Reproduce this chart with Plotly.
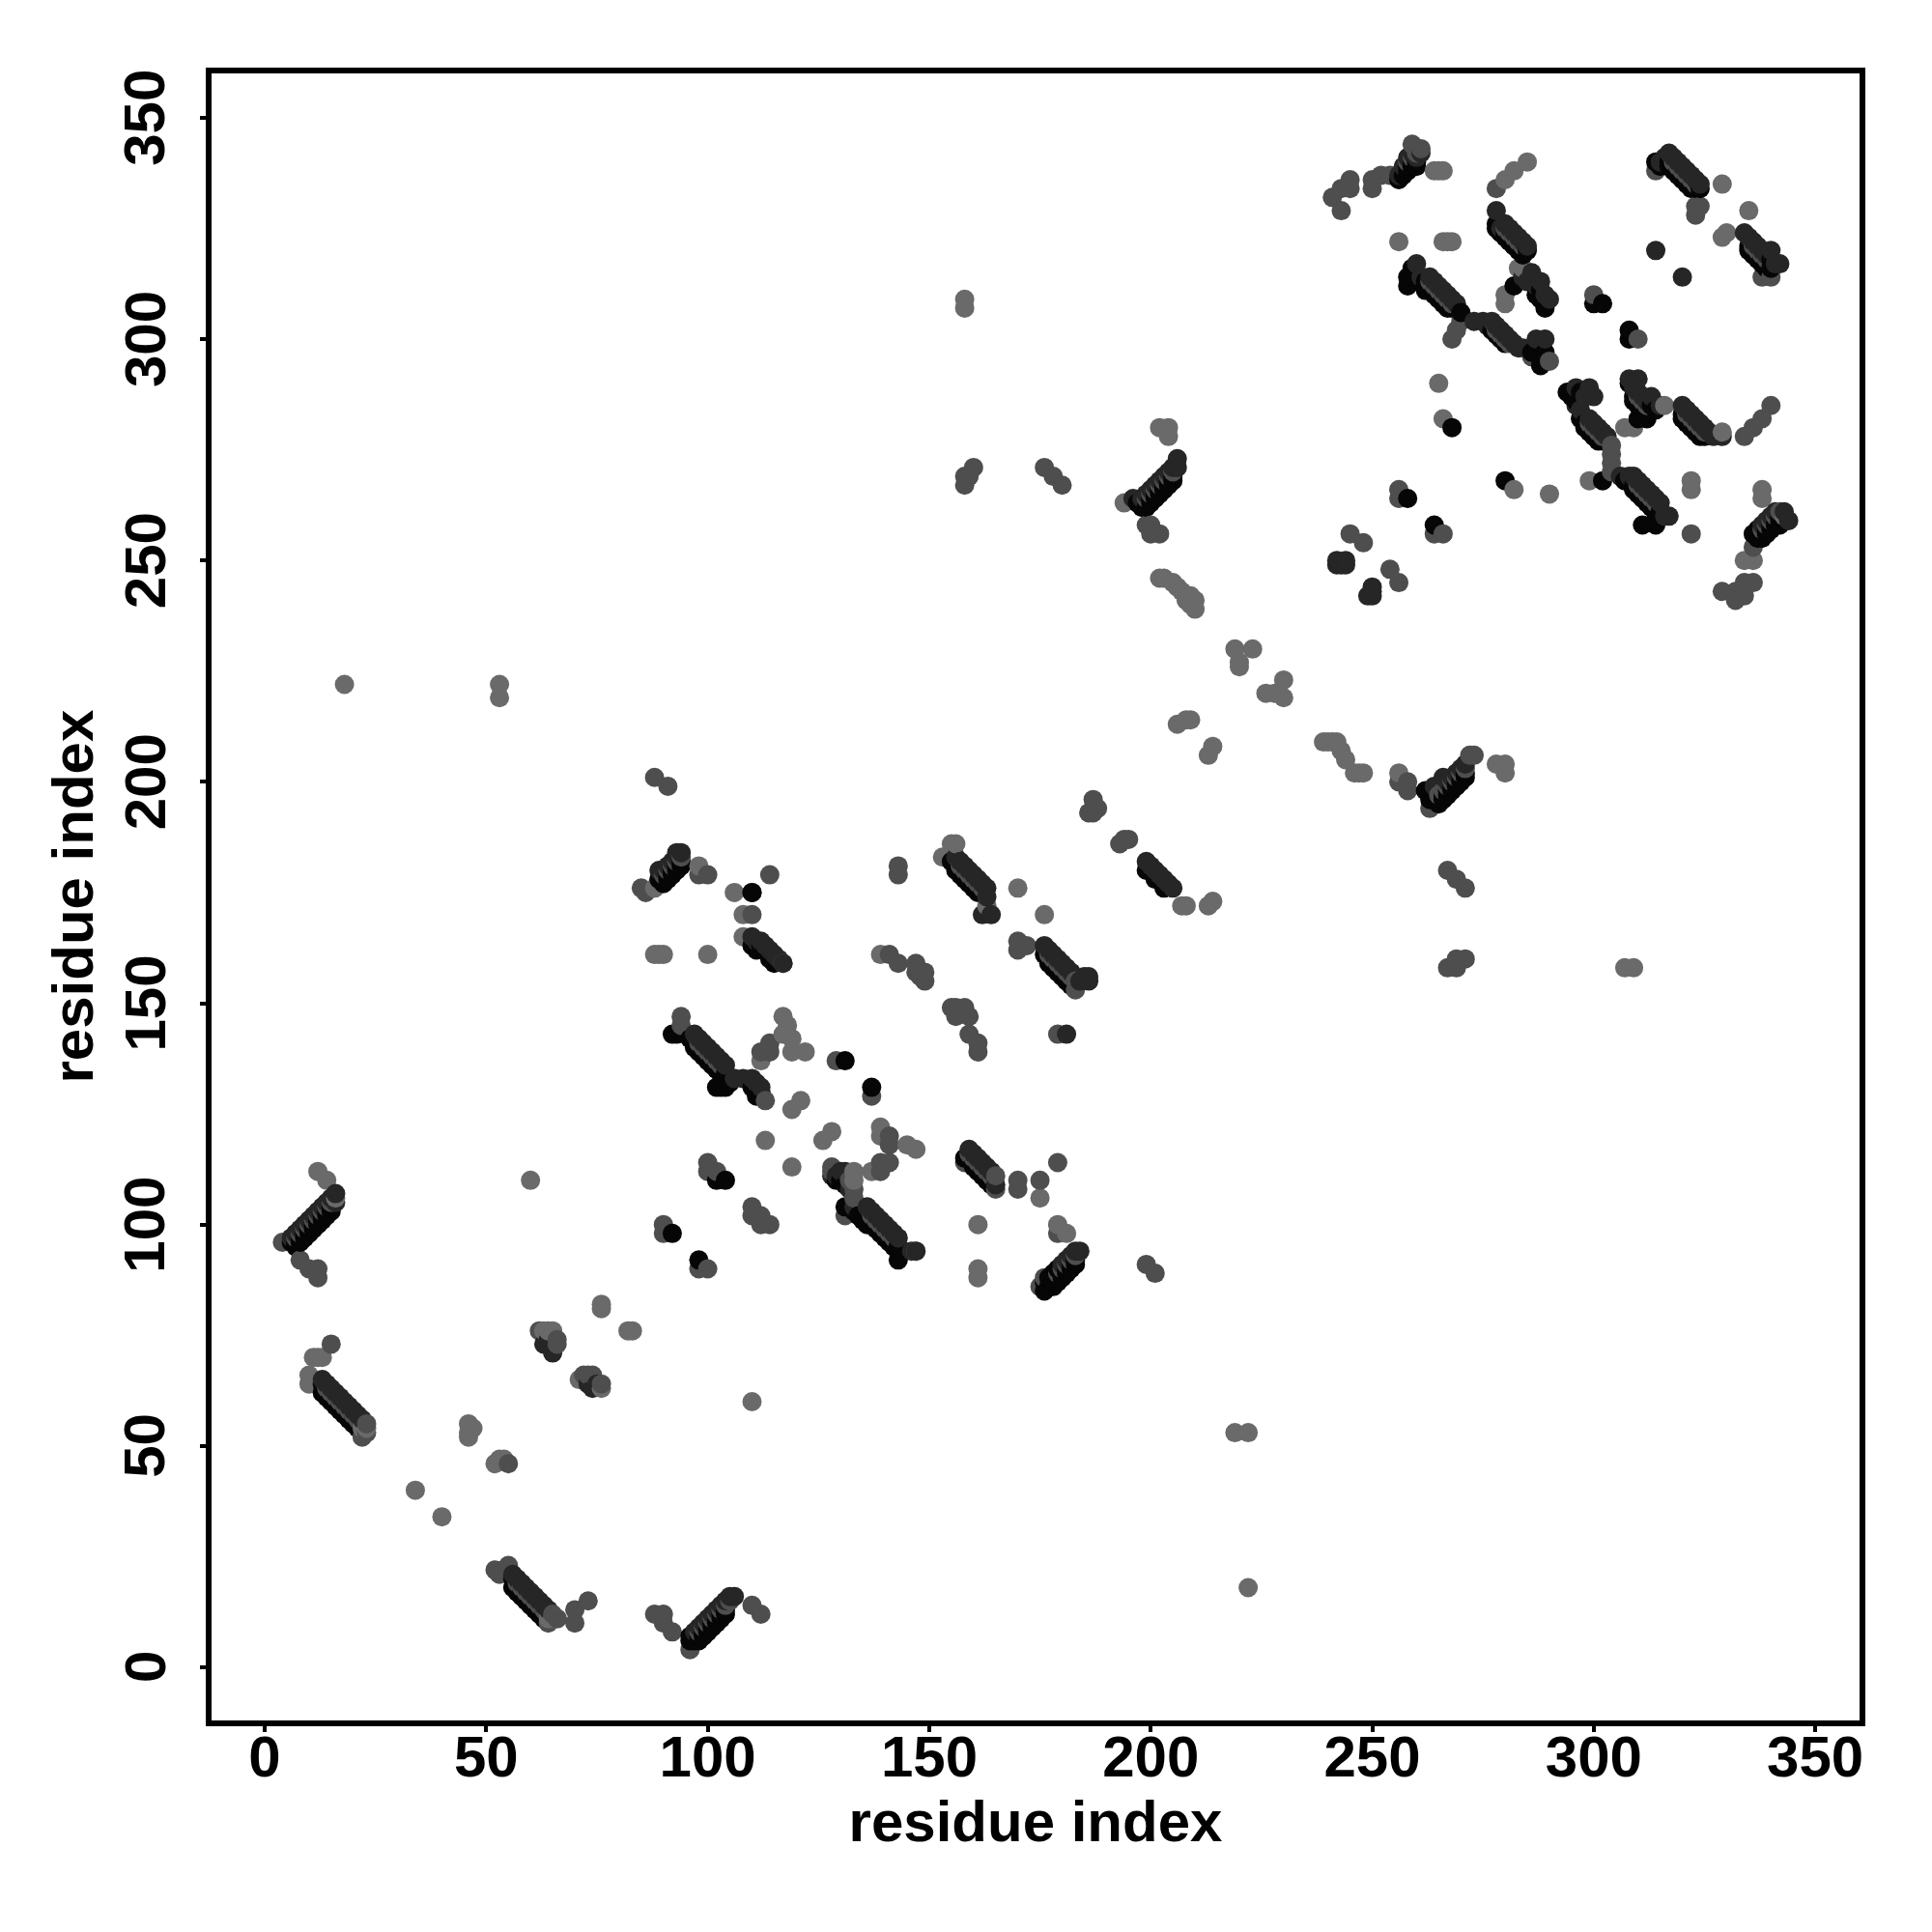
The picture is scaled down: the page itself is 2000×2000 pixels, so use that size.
import plotly.graph_objects as go

x_tick_labels = [0, 50, 100, 150, 200, 250, 300, 350]
y_tick_labels = [0, 50, 100, 150, 200, 250, 300, 350]
axis_title = "residue index"

contacts_light = [
 (12,112),(14,110),(60,110),(76,82),(76,81),(82,76),(83,76),(63,76),(64,76),(65,76),(46,55),(46,53),(47,54),(46,52),
 (53,47),(52,46),(54,47),(34,40),(40,34),(110,60),(11,70),(13,70),(12,70),(10,66),(10,64),(18,222),(53,222),(53,219),
 (219,53),(222,53),(222,18),(158,309),(158,307),(98,181),(106,175),(108,170),(108,165),(88,161),(89,161),(90,161),(100,161),
 (139,161),(170,176),(176,170),(117,147),(118,145),(117,143),(119,142),(122,139),(119,139),(112,137),(121,128),(119,126),
 (128,121),(126,119),(139,122),(139,120),(145,118),(147,117),(137,112),(161,100),(161,90),(161,88),(175,106),(181,98),
 (194,263),(202,280),(204,280),(204,278),(206,213),(208,214),(209,214),(213,206),(214,208),(219,230),(223,230),(220,227),(220,226),
 (230,223),(226,220),(228,220),(230,219),(239,209),(240,209),(241,209),(242,209),(243,207),(244,205),(246,202),(247,202),(248,202),
 (256,202),(278,204),(280,204),(280,202),(307,158),(309,158),(264,338),(265,338),(266,338),(280,336),(282,338),(285,340),
 (256,322),(266,322),(267,322),(268,322),(280,308),(280,310),(284,316),(283,316),(265,290),(266,282),(299,268),(307,280),(309,280),
 (282,266),(290,265),(322,268),(322,266),(338,266),(338,264),(334,250),(336,250),(329,335),(335,329),(329,323),(330,324),
 (202,246),(203,246),(205,245),(206,244),(207,243),(208,241),(209,242),(209,240),(210,241),(210,239),(155,186),(156,186),
 (207,172),(208,172),(213,172),(214,173),(153,183),(88,176),(179,100),(119,113),(113,119),(76,63),(71,65),
 (16,106),(22,54),(23,54),(66,11),(65,11),(117,159),(147,94),(64,11),(343,260),(329,279),(316,285),(133,110),(133,112),(163,172),
]
contacts_medium = [
 (4,96),(8,92),(10,90),(12,90),(12,88),(15,73),(66,73),(66,74),(62,76),(72,66),(73,66),(74,66),(76,64),(55,46),(100,114),(102,112),(100,112),
 (90,100),(90,98),(98,90),(100,90),(110,104),(112,102),(110,102),(112,100),(114,100),(88,12),(90,12),(90,10),(96,4),(110,14),(112,12),
 (70,10),(70,13),(73,15),(88,201),(91,199),(85,176),(86,175),(98,179),(100,179),(114,179),(110,170),(141,161),(143,159),(147,159),(147,157),
 (149,157),(149,155),(148,156),(155,149),(156,149),(158,149),(156,147),(159,147),(159,143),(161,141),(161,139),(179,143),(143,179),
 (94,147),(94,145),(114,141),(112,139),(114,139),(129,137),(137,129),(113,128),(141,120),(141,118),(139,114),(141,114),(139,112),
 (187,196),(186,193),(188,194),(187,193),(194,187),(195,187),(193,186),(170,164),(170,162),(172,163),(170,110),(170,108),(175,110),(179,114),
 (179,98),(199,91),(201,89),(158,267),(158,269),(160,271),(159,269),(176,271),(178,269),(180,267),(199,258),(200,258),(200,256),(202,256),
 (256,200),(258,200),(258,198),(263,194),(272,206),(273,206),(267,180),(269,178),(271,176),(267,158),(269,158),(269,160),(271,160),
 (241,332),(243,329),(243,334),(245,336),(245,334),(250,336),(250,334),(252,337),(254,337),(259,344),(261,343),(278,334),(269,302),(268,300),
 (270,304),(300,310),(310,300),(256,266),(256,264),(264,256),(266,256),(245,256),(248,254),(254,248),(256,245),(322,256),(336,253),
 (334,245),(336,245),(329,243),(332,243),(332,241),(334,242),(314,338),(323,330),(323,328),(324,330),(338,314),(340,314),(334,278),(336,280),
 (338,282),(340,285),(158,114),(165,108),(183,153),(143,181),(92,8),(53,21),(54,22),(55,23),(52,22),(131,102),(133,108),(133,106),(132,110),
 (128,113),(128,112),(165,111),(22,52),(23,53),(23,55),(65,12),(66,11),(64,10),(176,88),(175,86),(286,296),(290,295),(304,276),(304,274),(304,272),(304,270),
]
contacts_stripe = [
 (7,97),(8,98),(9,99),(10,100),(11,101),(12,102),(13,103),(14,104),(15,105),
 (98,8),(99,9),(100,10),(101,11),(102,12),(103,13),(104,14),(105,15),
 (90,179),(91,180),(92,181),(93,182),(94,183),(179,89),(180,90),(181,91),(182,92),(183,93),
 (199,264),(200,265),(201,266),(202,267),(203,268),(204,269),(205,270),
 (265,197),(266,198),(267,199),(268,200),(269,201),(270,202),(271,203),(258,340),(259,341),(260,342),
 (338,257),(339,258),(340,259),(341,260),(342,261),
 (14,63),(15,62),(16,61),(17,60),(18,59),(19,58),(20,57),(21,56),
 (57,19),(58,18),(59,17),(60,16),(61,15),(62,14),(63,13),
 (157,181),(158,180),(159,179),(160,178),(161,177),(162,176),
 (177,161),(178,160),(179,159),(180,158),(181,157),(182,156),(183,155),
 (98,141),(99,140),(100,139),(101,138),(102,137),(103,136),
 (137,102),(138,101),(139,100),(140,99),(141,98),(142,97),
 (159,116),(160,115),(161,114),(162,113),(163,112),(164,111),
 (263,313),(264,312),(265,311),(266,310),(267,309),(268,308),
 (280,325),(281,324),(282,323),(283,322),(284,321),
 (278,302),(279,301),(280,300),(281,299),(299,281),(300,280),(301,279),(302,278),(310,287),(311,286),(312,285),
 (321,283),(322,282),(323,281),(324,280),(325,279),(310,267),(311,266),(312,265),(313,264),(314,263),
 (318,340),(319,339),(320,338),(321,337),(322,336),(323,335),(336,321),(337,320),(338,319),(339,318),
]
contacts_dark = [
 (6,97),(7,98),(8,99),(9,100),(10,101),(11,102),(12,103),(13,104),(14,105),(15,106),(16,107),(16,105),
 (13,65),(14,64),(15,63),(16,62),(17,61),(18,60),(19,59),(20,58),(21,57),(22,56),
 (56,21),(57,20),(58,19),(59,18),(60,17),(61,16),(62,15),(63,14),(64,13),
 (97,8),(98,9),(99,10),(100,11),(101,12),(102,13),(103,14),(104,15),(105,16),(106,16),
 (63,73),(65,71),(64,74),(73,64),(74,63),(75,64),(89,180),(90,180),(91,181),(92,182),(93,183),(94,184),(93,184),
 (110,175),(110,165),(111,164),(112,164),(113,163),(114,162),(115,161),(116,160),(117,159),
 (156,183),(157,182),(158,181),(159,180),(160,179),(161,178),(162,177),(163,176),(163,174),(162,170),(164,170),
 (176,163),(177,162),(178,161),(179,160),(180,159),(181,158),(182,157),(184,155),(185,156),(186,155),(186,156),
 (181,143),(97,143),(98,142),(99,141),(100,140),(101,139),(102,138),(103,137),(104,136),(106,133),(108,133),(110,133),(111,132),(112,131),
 (128,111),(129,111),(130,112),(131,112),(132,108),(133,104),(136,104),(137,103),(138,102),(139,101),(140,100),(141,99),(142,98),(143,97),(146,94),(147,94),
 (159,117),(160,116),(161,115),(162,114),(163,113),(164,112),(165,109),(183,94),(184,94),(182,93),(181,92),(180,91),
 (196,264),(198,264),(199,265),(200,266),(201,267),(202,268),(203,269),(204,270),(205,271),(206,273),(206,271),(199,182),(200,181),(201,180),(202,179),(203,178),(204,177),(205,176),
 (264,199),(266,201),(267,200),(268,201),(269,202),(270,203),(271,204),(256,337),(257,339),(258,341),(259,342),(260,341),(261,342),
 (278,329),(279,325),(280,326),(281,325),(282,324),(283,323),(284,322),(285,321),(260,317),(261,314),(263,314),(264,313),(265,312),(266,311),(267,310),(268,309),(269,308),
 (273,304),(275,304),(277,304),(276,303),(278,303),(279,302),(280,301),(281,300),(282,299),(283,298),(284,298),(287,300),(289,300),
 (284,314),(285,313),(286,315),(287,312),(288,313),(289,310),(290,309),(296,289),(299,289),(300,287),(296,285),(298,287),
 (297,284),(299,282),(300,281),(301,280),(302,279),(303,278),(308,291),(310,291),(309,289),(310,288),(311,287),(312,286),(313,287),(315,285),
 (320,285),(321,284),(322,283),(323,282),(324,281),(325,280),(326,279),(327,278),(329,278),(306,269),(308,269),(309,269),(310,268),(311,267),(312,266),(313,265),(314,264),(315,263),(316,260),(317,260),
 (338,258),(339,259),(340,260),(341,261),(343,261),(344,259),(315,340),(316,341),(317,342),(318,341),(319,340),(320,339),(321,338),(322,337),(323,336),(324,335),
 (334,324),(335,323),(336,322),(337,321),(338,320),(339,319),(340,320),(341,317),(342,317),(242,250),(243,249),(244,249),(244,250),(242,249),(250,244),(250,243),(249,242),(250,242),(314,320),(320,314),
]
contacts_black = [
 (6,96),(7,96),(8,97),(9,98),(10,99),(11,100),(12,101),(13,102),(14,103),(15,104),
 (13,64),(14,62),(15,61),(16,60),(17,59),(18,58),(19,57),(20,56),(21,55),
 (56,20),(57,18),(58,17),(59,16),(60,15),(61,14),(62,13),(63,12),
 (96,7),(96,6),(97,6),(98,7),(99,8),(100,9),(101,10),(102,11),(103,12),(104,13),
 (89,178),(90,178),(91,179),(92,180),(93,181),(94,182),(112,163),(113,162),(114,160),(115,159),(111,162),(110,163),
 (155,182),(156,181),(157,180),(158,179),(159,178),(160,177),(161,176),(162,175),
 (176,161),(177,160),(178,159),(179,158),(180,157),(181,156),
 (92,143),(93,143),(96,142),(97,141),(98,140),(99,139),(100,138),(101,137),(102,136),(103,135),(104,134),(102,131),(103,131),(104,131),(105,132),(110,131),(112,130),(111,129),
 (129,110),(130,110),(131,109),(131,104),(133,103),(134,102),(135,101),(136,100),(137,101),(138,100),(139,99),(140,98),(141,97),(142,96),(143,95),(143,94),(143,92),
 (158,115),(159,115),(160,114),(161,113),(162,112),(163,111),(164,110),
 (176,85),(176,87),(177,86),(178,87),(179,88),(180,89),(181,90),(182,91),(183,92),(177,88),(178,89),(179,90),
 (197,263),(198,262),(200,264),(201,265),(202,266),(203,267),(204,268),(205,269),(199,180),(201,178),(203,176),
 (262,198),(263,196),(264,197),(265,196),(266,197),(267,198),(268,199),(269,200),(270,201),(271,202),
 (256,336),(257,337),(258,339),(259,340),(260,339),(278,326),(278,325),(279,324),(280,324),(281,323),(282,322),(283,321),(284,320),(285,320),
 (258,314),(258,312),(259,316),(259,314),(260,315),(262,313),(262,311),(263,312),(264,311),(265,310),(266,309),(267,308),(268,307),(270,306),
 (277,302),(278,301),(279,300),(280,299),(286,297),(287,297),(288,294),(288,296),(289,297),(282,312),(287,310),(288,311),(288,309),(289,308),(289,307),
 (294,288),(295,287),(297,288),(296,286),(297,282),(298,281),(299,280),(300,279),(301,278),(302,277),(308,290),(309,287),(310,286),(311,285),(312,284),(310,282),(312,282),(313,285),(314,284),
 (320,283),(321,282),(322,281),(323,280),(324,279),(325,278),(307,268),(308,268),(309,267),(310,266),(311,265),(312,264),(313,263),(314,262),(315,261),(315,260),(314,259),(314,258),(311,258),
 (336,256),(337,257),(337,255),(338,256),(339,257),(340,258),(342,260),(342,258),
 (314,340),(315,339),(317,340),(318,339),(319,338),(320,337),(321,336),(322,335),(323,334),(324,334),(335,321),(336,320),(338,318),(339,317),(340,318),(340,316),
 (92,98),(98,92),(102,110),(104,110),(110,175),(131,137),(137,131),(258,264),(264,258),(268,280),(302,308),(300,308),(308,302),(308,300),(280,268),(302,268),
 (7,95),(8,96),(9,97),(10,98),(11,99),(12,100),(13,101),(14,102),(15,103),
 (98,6),(99,7),(100,8),(101,9),(102,10),(103,11),(104,12),
 (90,177),(91,178),(92,179),(93,180),(94,181),(178,86),(179,87),(180,88),(181,89),(182,90),(183,91),
 (199,262),(200,263),(201,264),(202,265),(203,266),(204,267),(205,268),
 (265,195),(266,196),(267,197),(268,198),(269,199),(270,200),(271,201),(258,338),(259,339),(260,340),
 (338,255),(339,256),(340,257),(341,258),(342,259),
 (13,62),(14,61),(15,60),(16,59),(17,58),(18,57),(19,56),(20,55),(21,54),
 (56,18),(57,17),(58,16),(59,15),(60,14),(61,13),(62,12),(63,11),
 (156,180),(157,179),(158,178),(159,177),(160,176),(161,175),
 (177,159),(178,158),(179,157),(180,156),(181,155),(182,154),
 (97,140),(98,139),(99,138),(100,137),(101,136),(102,135),(103,134),
 (137,100),(138,99),(139,98),(140,97),(141,96),(142,95),
 (160,113),(161,112),(162,111),(163,110),(164,109),
 (260,314),(261,313),(262,312),(263,311),(264,310),(265,309),(266,308),(267,307),
 (279,324),(280,323),(281,322),(282,321),(283,320),(284,319),
 (298,280),(299,279),(300,278),(301,277),(309,286),(310,285),(311,284),(312,283),
 (320,282),(321,281),(322,280),(323,279),(324,278),(309,266),(310,265),(311,264),(312,263),(313,262),(314,261),
 (317,339),(318,338),(319,337),(320,336),(321,335),(322,334),(335,320),(336,319),(337,318),(338,317),(339,316),
]

rows = ([(x, y, "#6a6a6a") for x, y in contacts_light]
        + [(x, y, "#4e4e4e") for x, y in contacts_medium]
        + [(x, y, "#4e4e4e") for x, y in contacts_stripe]
        + [(x, y, "#262626") for x, y in contacts_dark]
        + [(x, y, "#060606") for x, y in contacts_black])
rows.sort(key=lambda r: (r[0], r[1]))

fig = go.Figure(go.Scatter(
    x=[r[0] for r in rows], y=[r[1] for r in rows], mode="markers",
    marker=dict(size=20, color=[r[2] for r in rows], line=dict(width=0)),
    showlegend=False, hoverinfo="skip"))

font_family = "Liberation Sans"
label_font = dict(family=font_family, size=60, color="black", weight="bold")
axis_common = dict(
    showgrid=False, zeroline=False, showline=True, mirror=True,
    linecolor="black", linewidth=6, ticks="outside", ticklen=6, tickwidth=4, tickcolor="black",
)
fig.update_xaxes(range=[-12, 360], tickvals=x_tick_labels, ticktext=[str(v) for v in x_tick_labels],
                 tickfont=label_font, ticklabelstandoff=-26,
                 title_text=axis_title, title_font=label_font, title_standoff=15, **axis_common)
fig.update_yaxes(range=[-12, 360], tickvals=y_tick_labels, showticklabels=False, **axis_common)

annotations = [dict(x=0, xref="paper", y=v, yref="y", xshift=-69, text=str(v), textangle=-90,
                    showarrow=False, font=label_font, xanchor="center", yanchor="middle")
               for v in y_tick_labels]
annotations.append(dict(x=0, xref="paper", y=0.5, yref="paper", xshift=-144, text=axis_title, textangle=-90,
                        showarrow=False, font=label_font, xanchor="center", yanchor="middle"))
fig.update_layout(
    width=2000, height=2000, autosize=False,
    paper_bgcolor="white", plot_bgcolor="white",
    margin=dict(l=211, r=83, t=68, b=227, pad=0),
    annotations=annotations,
)
fig.write_html("out.html")
